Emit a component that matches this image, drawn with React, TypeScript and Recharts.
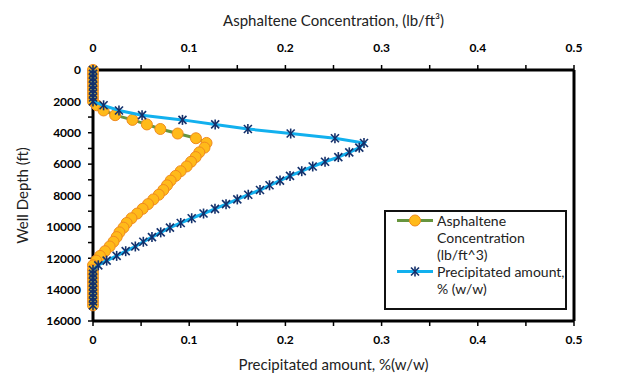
import { Legend, Scatter, ScatterChart, XAxis, YAxis } from "recharts";

// depth of each reading, ft
const depthFt = [
  0, 250, 500, 750, 1000, 1250, 1500, 1750, 2000,
  2250, 2580, 2880, 3180, 3470, 3760, 4050, 4350, 4650,
  4950, 5250, 5550, 5850, 6150, 6450, 6750, 7050, 7350, 7650, 7950, 8250, 8550,
  8850, 9150, 9450, 9750, 10050, 10350, 10650, 10950, 11250, 11550, 11850, 12150, 12450,
  12750, 13000, 13250, 13500, 13750, 14000, 14250, 14500, 14750, 15000,
];

// lb/ft^3
const asphalteneConc = [
  0, 0, 0, 0, 0, 0, 0, 0, 0,
  0.004, 0.011, 0.023, 0.041, 0.056, 0.07, 0.088, 0.107, 0.118,
  0.1159, 0.1105, 0.1067, 0.1019, 0.0973, 0.0911, 0.0859, 0.0807, 0.0769, 0.0731, 0.0684, 0.0627, 0.0572,
  0.0516, 0.0459, 0.04, 0.035, 0.0317, 0.0275, 0.0246, 0.0213, 0.0173, 0.0125, 0.0073, 0.0033, 0,
  0, 0, 0, 0, 0, 0, 0, 0, 0, 0,
];

// % (w/w)
const precipitatedPct = [
  0, 0, 0, 0, 0, 0, 0, 0, 0,
  0.011, 0.027, 0.051, 0.093, 0.127, 0.161, 0.2055, 0.2515, 0.2817,
  0.2768, 0.2664, 0.255, 0.2412, 0.2284, 0.217, 0.2048, 0.1944, 0.1835, 0.1736, 0.1614, 0.15, 0.1383,
  0.1268, 0.1149, 0.1026, 0.0912, 0.08, 0.0704, 0.0613, 0.0523, 0.044, 0.034, 0.0246, 0.0142, 0.0055,
  0, 0, 0, 0, 0, 0, 0, 0, 0, 0,
];

const xTicks = [0, 0.05, 0.1, 0.15, 0.2, 0.25, 0.3, 0.35, 0.4, 0.45, 0.5];
const depthTicks = [
  0, 1000, 2000, 3000, 4000, 5000, 6000, 7000, 8000, 9000, 10000, 11000, 12000, 13000, 14000, 15000, 16000,
];

const asphLegend = ["Asphaltene", "Concentration", "(lb/ft^3)"];
const precipLegend = ["Precipitated amount,", "% (w/w)"];

const asphData = depthFt.map((d, i) => ({ x: asphalteneConc[i], depth: d }));
const precipData = depthFt.map((d, i) => ({ x: precipitatedPct[i], depth: d }));

const FONT = "Lato, 'Open Sans', sans-serif";
const GREEN = "#67953e";
const BLUE = "#12b0ee";
const NAVY = "#13306b";

const xFmt = (v: number) => (Math.abs(v * 10 - Math.round(v * 10)) < 1e-6 ? String(v) : "");
const yFmt = (v: number) => (v % 2000 === 0 ? String(v) : "");

function Circle(props: any) {
  const { cx, cy } = props;
  if (cx == null || cy == null) return null;
  return <circle cx={cx} cy={cy} r={5.5} fill="#ffba1a" stroke="#f08a1e" strokeWidth={1} />;
}

function Star(props: any) {
  const { cx, cy } = props;
  if (cx == null || cy == null) return null;
  const s = 4;
  return (
    <g stroke={NAVY} strokeWidth={1.6}>
      <line x1={cx - s} y1={cy - s} x2={cx + s} y2={cy + s} />
      <line x1={cx - s} y1={cy + s} x2={cx + s} y2={cy - s} />
      <line x1={cx} y1={cy - s - 1} x2={cx} y2={cy + s + 1} />
    </g>
  );
}

function LegendBox() {
  const items = [
    { lines: asphLegend, color: GREEN, marker: <Circle cx={20} cy={8.5} /> },
    { lines: precipLegend, color: BLUE, marker: <Star cx={20} cy={8.5} /> },
  ];
  return (
    <div
      style={{
        boxSizing: "border-box",
        width: 183,
        height: 100,
        border: "2px solid #111",
        background: "#fff",
        fontFamily: FONT,
        fontSize: 14,
        lineHeight: "17px",
        color: "#222",
      }}
    >
      {items.map((it, i) => (
        <div key={i} style={{ display: "flex" }}>
          <svg width={40} height={17} style={{ flex: "none", marginLeft: 9, marginRight: 2 }}>
            <line x1={2} y1={8.5} x2={38} y2={8.5} stroke={it.color} strokeWidth={3} />
            {it.marker}
          </svg>
          <div>
            {it.lines.map((l) => (
              <div key={l} style={{ whiteSpace: "nowrap" }}>{l}</div>
            ))}
          </div>
        </div>
      ))}
    </div>
  );
}

const tickStyle = { fill: "#000", fontSize: 12, fontWeight: 700, fontFamily: FONT };
const axisLine = { stroke: "#000", strokeWidth: 3 };
const tickLine = { stroke: "#000", strokeWidth: 1.5 };
const titleStyle = { fill: "#222", fontSize: 15, fontFamily: FONT };

export default function App() {
  return (
    <div style={{ position: "absolute", left: 0, top: 0, background: "#fff" }}>
      <ScatterChart width={630} height={377} margin={{ top: 30, right: 0, bottom: 0, left: 0 }}>
        <XAxis
          xAxisId="bottom"
          type="number"
          dataKey="x"
          domain={[0, 0.5]}
          ticks={xTicks}
          interval={0}
          tickFormatter={xFmt}
          height={56}
          tickSize={5}
          tickMargin={9}
          tick={tickStyle}
          axisLine={axisLine}
          tickLine={tickLine}
          label={{ value: "Precipitated amount, %(w/w)", position: "insideBottom", offset: 7, ...titleStyle }}
        />
        <XAxis
          xAxisId="top"
          orientation="top"
          type="number"
          dataKey="x"
          domain={[0, 0.5]}
          ticks={xTicks}
          interval={0}
          tickFormatter={xFmt}
          height={40}
          tickSize={5}
          tickMargin={13}
          tick={tickStyle}
          axisLine={axisLine}
          tickLine={tickLine}
          label={{ value: "Asphaltene Concentration, (lb/ft³)", position: "top", offset: 4, ...titleStyle }}
        />
        <YAxis
          yAxisId="left"
          type="number"
          dataKey="depth"
          reversed
          domain={[0, 16000]}
          ticks={depthTicks}
          interval={0}
          tickFormatter={yFmt}
          width={93}
          tickSize={5}
          tickMargin={7}
          tick={tickStyle}
          axisLine={axisLine}
          tickLine={tickLine}
          label={{
            content: (p: any) => {
              const vb = p.viewBox;
              const cx = vb.x + 22;
              const cy = vb.y + vb.height / 2;
              return (
                <text
                  x={cx}
                  y={cy}
                  transform={`rotate(-90 ${cx} ${cy})`}
                  textAnchor="middle"
                  dominantBaseline="central"
                  {...titleStyle}
                >
                  Well Depth (ft)
                </text>
              );
            },
          }}
        />
        <YAxis
          yAxisId="right"
          orientation="right"
          type="number"
          dataKey="depth"
          reversed
          domain={[0, 16000]}
          ticks={depthTicks}
          interval={0}
          tickFormatter={yFmt}
          width={56}
          tickSize={5}
          tickMargin={6}
          tick={tickStyle}
          axisLine={axisLine}
          tickLine={tickLine}
        />
        <Legend
          layout="vertical"
          align="center"
          verticalAlign="middle"
          wrapperStyle={{ left: 384, top: 210, width: 183, height: 100 }}
          content={() => <LegendBox />}
        />
        <Scatter
          name="Asphaltene Concentration (lb/ft^3)"
          data={asphData}
          xAxisId="top"
          yAxisId="left"
          line={{ stroke: GREEN, strokeWidth: 3 }}
          lineType="joint"
          shape={Circle}
          isAnimationActive={false}
        />
        <Scatter
          name="Precipitated amount, % (w/w)"
          data={precipData}
          xAxisId="bottom"
          yAxisId="left"
          line={{ stroke: BLUE, strokeWidth: 3 }}
          lineType="joint"
          shape={Star}
          isAnimationActive={false}
        />
      </ScatterChart>
    </div>
  );
}
